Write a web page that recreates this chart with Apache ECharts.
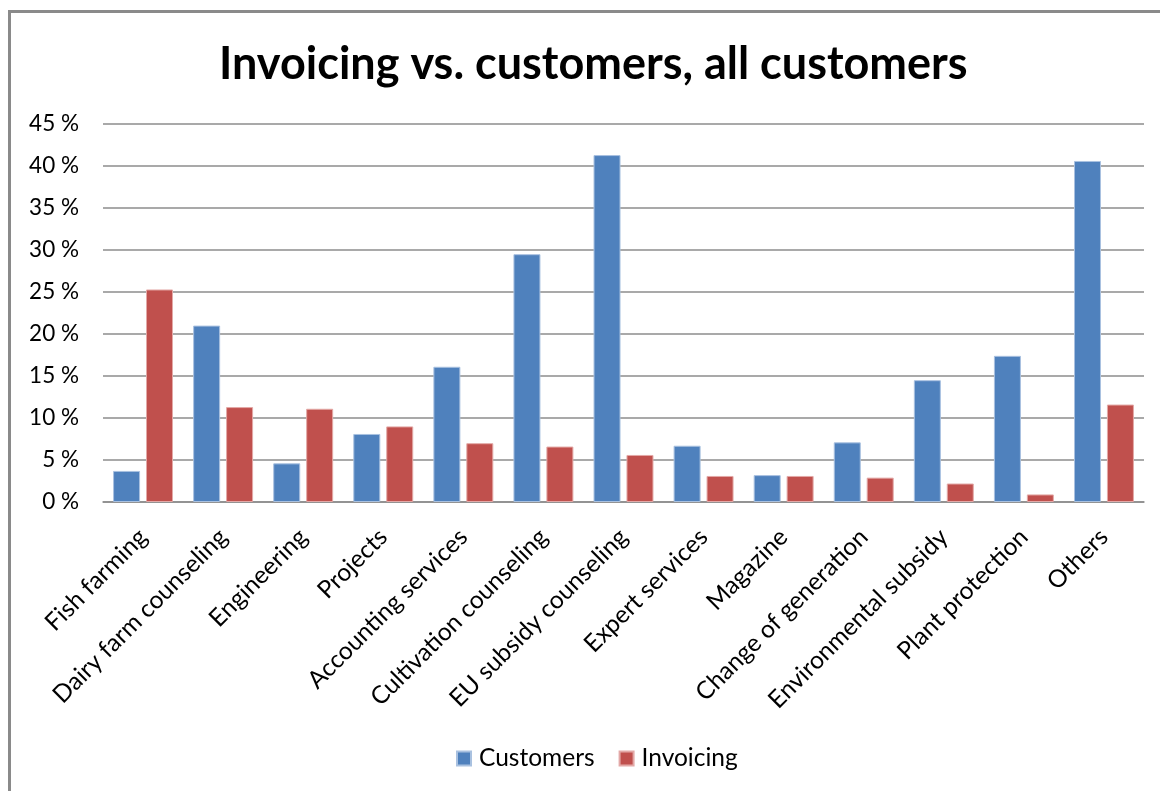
<!DOCTYPE html>
<html>
<head>
<meta charset="utf-8">
<script src="https://cdn.jsdelivr.net/npm/echarts@6/dist/echarts.min.js"></script>
<style>
  html, body { margin: 0; padding: 0; background: #ffffff; }
  #chart { width: 1160px; height: 791px; }
</style>
</head>
<body>
<div id="chart"></div>
<script>
// Service categories
const categories = [
  'Fish farming', 'Dairy farm counseling', 'Engineering', 'Projects',
  'Accounting services', 'Cultivation counseling', 'EU subsidy counseling',
  'Expert services', 'Magazine', 'Change of generation',
  'Environmental subsidy', 'Plant protection', 'Others'
];
// Share of customers (%)
const customers = [3.7, 21.0, 4.6, 8.1, 16.1, 29.5, 41.3, 6.7, 3.2, 7.1, 14.5, 17.4, 40.6];
// Share of invoicing (%)
const invoicing = [25.3, 11.3, 11.1, 9.0, 7.0, 6.6, 5.6, 3.1, 3.1, 2.9, 2.2, 0.9, 11.6];
// Value axis ticks
const yTicks = [0, 5, 10, 15, 20, 25, 30, 35, 40, 45];

const FONT = 'Lato, "Open Sans", sans-serif';
const chart = echarts.init(document.getElementById('chart'), null, { renderer: 'canvas' });

chart.setOption({
  animation: false,
  backgroundColor: '#ffffff',
  title: {
    text: 'Invoicing vs. customers, all customers',
    left: 214,
    top: 37,
    textStyle: { fontFamily: FONT, fontWeight: 'bold', fontSize: 45, color: '#000000' }
  },
  legend: {
    bottom: 15,
    left: 451,
    itemWidth: 14,
    itemHeight: 14,
    itemGap: 24,
    icon: 'rect',
    textStyle: { fontFamily: FONT, fontSize: 24.5, color: '#000000', padding: [0, 0, 0, 3] },
    data: ['Customers', 'Invoicing']
  },
  grid: {
    left: 103,
    right: 16,
    top: 124,
    bottom: 289,
    containLabel: false
  },
  xAxis: {
    type: 'category',
    data: categories,
    axisTick: { show: false },
    axisLine: { lineStyle: { color: '#8c8c8c', width: 1.5 } },
    axisLabel: {
      interval: 0,
      rotate: 45,
      margin: 31,
      fontFamily: FONT,
      fontSize: 24.5,
      color: '#000000'
    }
  },
  yAxis: {
    type: 'value',
    min: yTicks[0],
    max: yTicks[yTicks.length - 1],
    interval: 5,
    axisLine: { show: false },
    axisTick: { show: false },
    splitLine: { lineStyle: { color: '#8c8c8c', width: 1.5 } },
    axisLabel: {
      formatter: v => v + ' %',
      margin: 24,
      fontFamily: FONT,
      fontSize: 22.5,
      color: '#000000'
    }
  },
  series: [
    {
      name: 'Customers',
      type: 'bar',
      data: customers,
      barWidth: 27,
      barGap: '22%',
      itemStyle: { color: '#4f81bd', borderColor: '#a9c1e0', borderWidth: 1 }
    },
    {
      name: 'Invoicing',
      type: 'bar',
      data: invoicing,
      barWidth: 27,
      barGap: '22%',
      itemStyle: { color: '#c0504d', borderColor: '#e3a9a7', borderWidth: 1 }
    }
  ],
  graphic: [
    {
      type: 'rect',
      shape: { x: 9.5, y: 11.5, width: 1200, height: 900 },
      style: { fill: 'none', stroke: '#8a8a8a', lineWidth: 3 },
      silent: true
    }
  ]
});
</script>
</body>
</html>
